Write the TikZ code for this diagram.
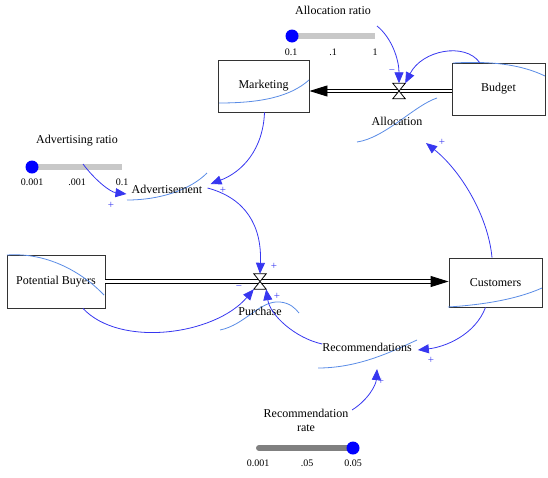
\documentclass[tikz,border=0pt]{standalone}
\usepackage{fontspec}
\setmainfont{Liberation Serif}
\usetikzlibrary{arrows.meta}
\definecolor{linkblue}{RGB}{55,55,240}
\definecolor{spark}{RGB}{90,140,230}
\definecolor{tracklight}{RGB}{200,200,200}
\definecolor{trackdark}{RGB}{128,128,128}
\definecolor{knobblue}{RGB}{0,0,255}
\begin{document}
\begin{tikzpicture}[x=1pt,y=-1pt,
  stock/.style={draw=black!80, line width=0.9pt, fill=white, inner sep=0pt, font=\fontsize{12}{14}\selectfont},
  lbl/.style={inner sep=0pt, font=\fontsize{12}{14}\selectfont},
  tick/.style={inner sep=0pt, font=\fontsize{10}{12}\selectfont},
  sgn/.style={inner sep=0pt, text=linkblue, font=\fontsize{11}{12}\selectfont},
  link/.style={draw=linkblue, line width=0.8pt, -{Triangle[length=11pt,width=9pt]}},
  spk/.style={draw=spark, line width=0.8pt},
  pipe/.style={draw=black, line width=0.9pt, double=white, double distance=2.4pt, -{Triangle[length=18pt,width=11pt]}},
  valvebox/.style={inner sep=0pt, minimum width=12pt, minimum height=15pt},
  valveline/.style={draw=black, line width=0.8pt, fill=white},
  trackA/.style={draw=tracklight, line width=6pt},
  trackB/.style={draw=trackdark, line width=6pt, line cap=round},
  knob/.style={circle, fill=knobblue, inner sep=0pt, minimum size=13pt}
]
\useasboundingbox (0,0) rectangle (548,477);

% stocks
\node[stock, minimum width=91pt, minimum height=52pt] (mkt) at (263.5,86) {Marketing};
\node[stock, minimum width=93pt, minimum height=52pt] (bud) at (498.5,89) {Budget};
\node[stock, minimum width=98pt, minimum height=53pt] (pb) at (56,281.5) {Potential Buyers};
\node[stock, minimum width=93pt, minimum height=49pt] (cus) at (495.5,282.5) {Customers};

% sparklines
\draw[spk] (219,103) .. controls (260,103) and (290,97) .. (309,80);
\draw[spk] (453,63) .. controls (490,61) and (520,64) .. (545,76);
\draw[spk] (7,255) .. controls (50,252) and (85,275) .. (104,295);
\draw[spk] (448,307) .. controls (480,305) and (515,300) .. (542,288);
\draw[spk] (357,142) .. controls (385,138) and (415,105) .. (437,98);
\draw[spk] (127,200) .. controls (160,200) and (190,190) .. (207,173);
\draw[spk] (220,330) .. controls (245,325) and (260,300) .. (280,302) .. controls (290,303) and (295,308) .. (299,313);
\draw[spk] (318,368) .. controls (360,368) and (395,350) .. (417,340);

% flows
\node[valvebox] (va) at (399,91) {};
\node[valvebox] (vp) at (260,281.5) {};
\draw[pipe] ([yshift=-2pt]bud.west) -- ([yshift=-5pt]mkt.east);
\draw[pipe] (pb.east) -- ([yshift=1pt]cus.west);
\draw[valveline] (va.north west) -- (va.north east) -- (va.south west) -- (va.south east) -- cycle;
\draw[valveline] (vp.north west) -- (vp.north east) -- (vp.south west) -- (vp.south east) -- cycle;
\node[lbl] (alloc) at (397,121) {Allocation};
\node[lbl] (purch) at (260,311) {Purchase};

% auxiliaries
\node[lbl] (adv) at (167,189) {Advertisement};
\node[lbl] (rec) at (367,347) {Recommendations};

% sliders
\node[lbl] (artitle) at (333,10) {Allocation ratio};
\draw[trackA] (292,36) -- (375,36);
\node[knob] (arknob) at (292,36) {};
\node[tick] (ar1) at (291,52) {0.1};
\node[tick] (ar2) at (333,52) {.1};
\node[tick] (ar3) at (375,52) {1};
\coordinate (arout) at (377,26);

\node[lbl] (advtitle) at (77,141) {Advertising ratio};
\draw[trackA] (32,167) -- (122,167);
\node[knob] (advknob) at (32,167) {};
\node[tick] (ad1) at (32,182) {0.001};
\node[tick] (ad2) at (77,182) {.001};
\node[tick] (ad3) at (122,182) {0.1};
\coordinate (advout) at (83,164);

\node[lbl, align=center] (rrtitle) at (306,420) {Recommendation\\rate};
\draw[trackB] (259,448) -- (353,448);
\node[knob] (rrknob) at (353,448) {};
\node[tick] (rr1) at (258,463) {0.001};
\node[tick] (rr2) at (307,463) {.05};
\node[tick] (rr3) at (353,463) {0.05};
\coordinate (rrout) at (352,410);

% connectors
\draw[link] (arout) .. controls (392,38) and (399,60) .. (va.north);
\draw[link] (bud) .. controls (465,42) and (422,50) .. (va.north east);
\draw[link] ([xshift=1pt]mkt.south) .. controls (263,150) and (242,172) .. ([xshift=8pt,yshift=5pt]adv.east);
\draw[link] (advout) .. controls (95,180) and (110,192) .. ([xshift=-5pt,yshift=-5pt]adv.west);
\draw[link] ([xshift=5pt,yshift=1pt]adv.east) .. controls (245,198) and (262,225) .. (vp.north);
\draw[link] ([xshift=27pt]pb.south) .. controls (120,348) and (215,335) .. (vp.south west);
\draw[link] ([yshift=3pt]rec.west) .. controls (295,338) and (270,315) .. (vp.south east);
\draw[link] ([xshift=-10pt]cus.south) .. controls (475,335) and (445,347) .. ([xshift=6pt,yshift=-3pt]rec.east);
\draw[link] ([xshift=-3.5pt]cus.north) .. controls (488,215) and (460,170) .. ([xshift=29pt,yshift=-22pt]alloc.center);
\draw[link] (rrout) .. controls (368,400) and (376,385) .. ([xshift=10pt,yshift=-22pt]rec.center);

% polarity signs
\node[sgn] (s1) at (392,72) {−};
\node[sgn] (s2) at (410,76) {+};
\node[sgn] (s3) at (223,190) {+};
\node[sgn] (s4) at (111,205) {+};
\node[sgn] (s5) at (274,266) {+};
\node[sgn] (s6) at (239,288) {−};
\node[sgn] (s7) at (277,296) {+};
\node[sgn] (s8) at (431,360) {+};
\node[sgn] (s9) at (442,142) {+};
\node[sgn] (s10) at (381,381) {+};
\end{tikzpicture}
\end{document}
